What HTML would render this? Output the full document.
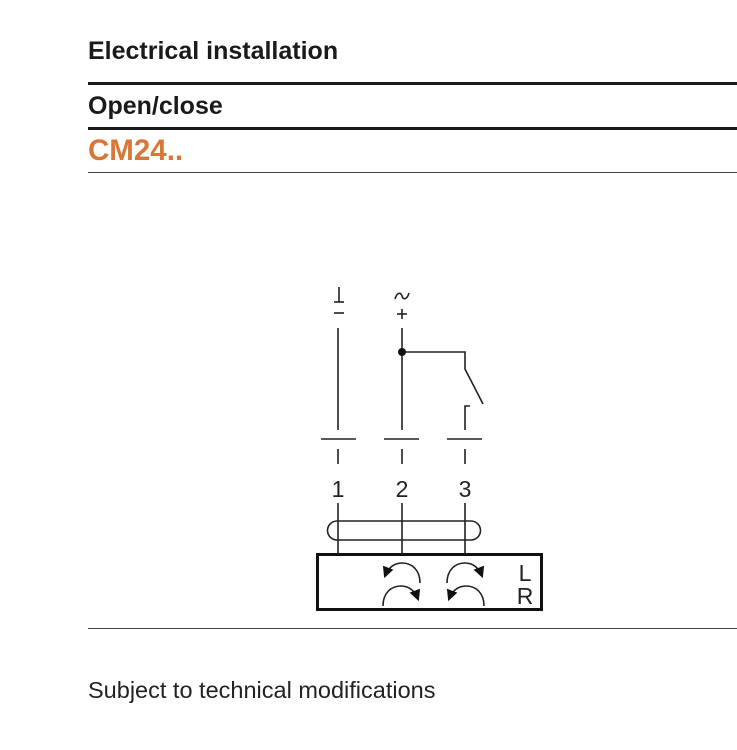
<!DOCTYPE html>
<html><head><meta charset="utf-8"><style>
html,body{margin:0;padding:0;background:#fff;width:737px;height:750px;overflow:hidden;position:relative;font-family:"Liberation Sans",sans-serif}
.t{position:absolute;left:88px;white-space:nowrap;font-weight:bold;color:#1a1a1a}
.l{position:absolute;left:88px;right:0;background:#1a1a1a}
</style></head><body>
<div class="t" style="top:37px;font-size:25px">Electrical installation</div>
<div class="l" style="top:82px;height:3px"></div>
<div class="t" style="top:92px;font-size:25px">Open/close</div>
<div class="l" style="top:127px;height:3px"></div>
<div class="t" style="top:134px;font-size:29.5px;color:#d9773a">CM24..</div>
<div class="l" style="top:172px;height:1px;background:#444"></div>
<div class="l" style="top:628px;height:1px;background:#444"></div>
<div class="t" style="top:677px;font-size:23.5px;font-weight:normal;color:#222">Subject to technical modifications</div>
<svg width="737" height="750" style="position:absolute;left:0;top:0" xmlns="http://www.w3.org/2000/svg">
<defs><marker id="a" viewBox="0 0 10 10" refX="8" refY="5" markerWidth="7" markerHeight="7" orient="auto"><path d="M0,0L10,5L0,10z" fill="#111"/></marker></defs>
<g stroke="#222" stroke-width="1.6" fill="none">
<line x1="338" y1="328" x2="338" y2="430"/>
<line x1="402" y1="328" x2="402" y2="430"/>
<polyline points="402,352 465,352 465,369 483,404"/>
<polyline points="470,406 465,406 465,430"/>
<line x1="321" y1="439" x2="356" y2="439"/>
<line x1="384" y1="439" x2="419" y2="439"/>
<line x1="447" y1="439" x2="482" y2="439"/>
<line x1="338" y1="449" x2="338" y2="464"/>
<line x1="402" y1="449" x2="402" y2="464"/>
<line x1="465" y1="449" x2="465" y2="464"/>
<line x1="338" y1="503" x2="338" y2="555"/>
<line x1="402" y1="503" x2="402" y2="555"/>
<line x1="465" y1="503" x2="465" y2="555"/>
<path d="M337,521 H471 A9.5,9.5 0 0 1 471,540 H337 A9.5,9.5 0 0 1 337,521 Z"/>
<path d="M420,583 C420,570 412,563 402,563 C394,563 388,568 385,576" marker-end="url(#a)"/>
<path d="M447,583 C447,570 455,563 465,563 C473,563 479,568 482,576" marker-end="url(#a)"/>
<path d="M383,606 C383,593 391,586 401,586 C409,586 415,591 418,599" marker-end="url(#a)"/>
<path d="M484,606 C484,593 476,586 466,586 C458,586 452,591 449,599" marker-end="url(#a)"/>
<line x1="334" y1="302" x2="344" y2="302"/>
<line x1="339" y1="287" x2="339" y2="302"/>
<line x1="334" y1="313" x2="344" y2="313"/>
<line x1="397" y1="314" x2="407" y2="314"/>
<line x1="402" y1="309" x2="402" y2="319"/>
<path d="M395,299 C397,292 401,292 402,296 C403,300 407,300 409,293"/>
</g>
<rect x="317.5" y="554.5" width="224" height="55" fill="none" stroke="#111" stroke-width="3"/>
<circle cx="402" cy="352" r="4" fill="#111"/>
<g font-family="Liberation Sans,sans-serif" font-size="23" fill="#222" text-anchor="middle">
<text x="338" y="497">1</text><text x="402" y="497">2</text><text x="465" y="497">3</text>
<text x="525" y="581">L</text><text x="525" y="604">R</text>
</g>
</svg>
</body></html>
